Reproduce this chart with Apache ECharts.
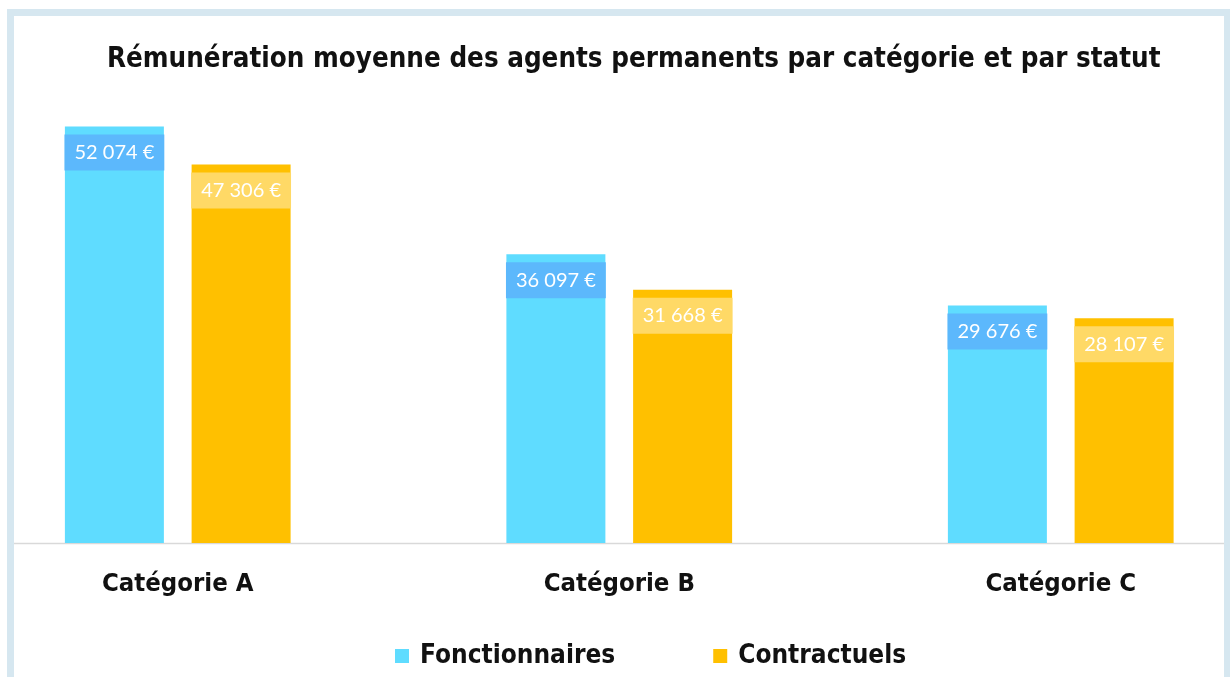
<!DOCTYPE html>
<html>
<head>
<meta charset="utf-8">
<script src="https://cdn.jsdelivr.net/npm/echarts@6/dist/echarts.min.js"></script>
<style>
  html, body { margin: 0; padding: 0; background: #fff; }
  #chart { width: 1230px; height: 677px; }
</style>
</head>
<body>
<div id="chart"></div>
<script>
  const categories = ['Catégorie A', 'Catégorie B', 'Catégorie C'];
  const fonctionnaires = [52074, 36097, 29676];
  const contractuels = [47306, 31668, 28107];

  const fmt = function (v) {
    return String(v).replace(/\B(?=(\d{3})+(?!\d))/g, ' ') + ' €';
  };

  const labelStyle = function (bg) {
    return {
      show: true,
      position: 'insideTop',
      distance: 8,
      color: '#fff',
      fontFamily: 'Lato',
      fontSize: 20,
      lineHeight: 20,
      padding: [8, 10],
      backgroundColor: bg,
      formatter: function (p) { return fmt(p.value); }
    };
  };

  const boldText = {
    fontFamily: 'DejaVu Sans Condensed',
    fontWeight: 'bold',
    color: '#111'
  };

  const chart = echarts.init(document.getElementById('chart'));
  chart.setOption({
    animation: false,
    title: {
      text: 'Rémunération moyenne des agents permanents par catégorie et par statut',
      left: 102,
      top: 41,
      textStyle: Object.assign({ fontSize: 27.5 }, boldText)
    },
    legend: {
      left: 390,
      top: 638,
      itemWidth: 14,
      itemHeight: 14,
      itemGap: 98,
      icon: 'rect',
      textStyle: Object.assign({ fontSize: 26, padding: [0, 0, 0, 6] }, boldText)
    },
    grid: { left: -43, width: 1324.5, top: 63, bottom: 134, outerBoundsMode: 'none', containLabel: false },
    xAxis: {
      type: 'category',
      data: categories,
      axisLine: { show: false },
      axisTick: { show: false },
      axisLabel: Object.assign({ margin: 28, fontSize: 25.5 }, boldText)
    },
    yAxis: { type: 'value', min: 0, max: 60000, show: false },
    series: [
      {
        name: 'Fonctionnaires',
        type: 'bar',
        data: fonctionnaires,
        barWidth: 99,
        barGap: '28%',
        itemStyle: { color: '#5fdcff' },
        label: labelStyle('#5cb8fc')
      },
      {
        name: 'Contractuels',
        type: 'bar',
        data: contractuels,
        barWidth: 99,
        itemStyle: { color: '#ffc000' },
        label: labelStyle('#ffd966')
      }
    ],
    graphic: [
      {
        type: 'line',
        shape: { x1: 14, y1: 543.5, x2: 1224, y2: 543.5 },
        style: { stroke: '#d9d9d9', lineWidth: 1.5 }
      },
      {
        type: 'rect',
        shape: { x: 10.5, y: 12.5, width: 1217, height: 720 },
        style: { fill: null, stroke: '#d6e7f0', lineWidth: 7 }
      }
    ]
  });
</script>
</body>
</html>
